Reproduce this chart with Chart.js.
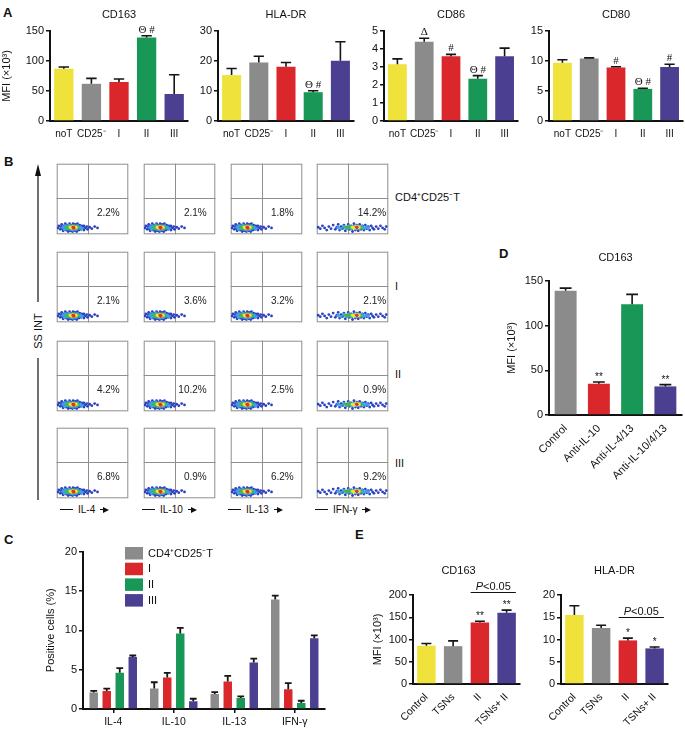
<!DOCTYPE html>
<html>
<head>
<meta charset="utf-8">
<title>Macrophage marker figure</title>
<script src="https://cdn.jsdelivr.net/npm/chart.js@4.4.1/dist/chart.umd.min.js"></script>
<style>
  body { margin: 0; width: 685px; height: 731px; position: relative; overflow: hidden; background: #fff;
         font-family: "Liberation Sans", Arial, sans-serif; color: #111; }
  canvas { position: absolute; }
  .panel { position: absolute; font-weight: bold; font-size: 13px; line-height: 13px; }
  .txt { position: absolute; font-size: 11px; line-height: 12px; white-space: nowrap; }
  .xlab { position: absolute; top: 504px; font-size: 10px; line-height: 11px; display: flex; align-items: center;
          white-space: nowrap; color: #111; }
  .xlab .dash { display: inline-block; width: 13px; height: 1px; background: #111; margin-right: 5px; }
  .xlab .stub { display: inline-block; width: 3px; height: 1px; background: #111; margin-left: 5px; }
  .xlab .head { display: inline-block; width: 0; height: 0; border-top: 3px solid transparent;
                border-bottom: 3px solid transparent; border-left: 6px solid #111; }
</style>
</head>
<body>

<div class="panel" style="left:3px;top:6px">A</div>
<div class="panel" style="left:4px;top:155px">B</div>
<div class="panel" style="left:4px;top:533px">C</div>
<div class="panel" style="left:499px;top:247px">D</div>
<div class="panel" style="left:355px;top:528px">E</div>

<!-- panel B: row names -->
<div class="txt" style="left:395px;top:191px">CD4⁺CD25⁻T</div>
<div class="txt" style="left:395px;top:280px">I</div>
<div class="txt" style="left:395px;top:368px">II</div>
<div class="txt" style="left:395px;top:457px">III</div>

<!-- panel B: SS INT axis -->
<svg width="60" height="520" style="position:absolute;left:0;top:0">
  <line x1="38" y1="172" x2="38" y2="302" stroke="#111" stroke-width="1.2"/>
  <polygon points="38,164 35,176 41,176" fill="#111"/>
  <line x1="38" y1="358" x2="38" y2="500" stroke="#111" stroke-width="1.2"/>
  <text transform="translate(42,331) rotate(-90)" text-anchor="middle" font-size="11"
        font-family="Liberation Sans, Arial, sans-serif" fill="#111">SS INT</text>
</svg>

<div id="cytoLabels"></div>

<script>
Chart.defaults.font.family = '"Liberation Sans", Arial, sans-serif';
Chart.defaults.color = '#111';

const YEL = '#eee23b', GRY = '#8b8b8b', RED = '#d9272c', GRN = '#189757', PUR = '#4b3f91';

// ---- panel A data ----
const groupsA = ['noT', 'CD25⁻', 'I', 'II', 'III'];
const colorsA = [YEL, GRY, RED, GRN, PUR];
const cd163A = [87, 62, 65, 139, 45];
const cd163AErr = [3, 9, 5, 3, 32];
const cd163AMarks = ['', '', '', 'Θ #', ''];
const hladrA = [15.3, 19.5, 18.1, 9.6, 20.1];
const hladrAErr = [2.2, 2.1, 1.4, 0.5, 6.3];
const hladrAMarks = ['', '', '', 'Θ #', ''];
const cd86A = [3.15, 4.4, 3.6, 2.35, 3.6];
const cd86AErr = [0.3, 0.2, 0.1, 0.17, 0.45];
const cd86AMarks = ['', 'Δ', '#', 'Θ #', ''];
const cd80A = [9.7, 10.4, 8.9, 5.35, 9.0];
const cd80AErr = [0.5, 0.12, 0.15, 0.1, 0.45];
const cd80AMarks = ['', '', '#', 'Θ #', '#'];

// ---- panel B data ----
const cytokines = ['IL-4', 'IL-10', 'IL-13', 'IFN-γ'];
const pctCD4T = [2.2, 2.1, 1.8, 14.2];
const pctI = [2.1, 3.6, 3.2, 2.1];
const pctII = [4.2, 10.2, 2.5, 0.9];
const pctIII = [6.8, 0.9, 6.2, 9.2];
const pctRows = [pctCD4T, pctI, pctII, pctIII];

// representative events, narrow cluster (IL-4 / IL-10 / IL-13)
const narrowBlue = [[2,9],[3,12],[5,7],[6,11],[7,14],[8,8],[9,5],[10,12],[11,9],[12,15],[13,6],[14,11],
  [15,13],[16,4],[17,8],[18,15],[19,5],[20,13],[22,4],[23,15],[25,5],[26,14],[28,4],[29,15],[31,6],
  [32,13],[34,7],[35,12],[36,9],[38,6],[38,12],[40,9],[42,11],[43,7],[46,10],[49,8],[53,11],[57,9]];
const narrowCyan = [[9,10],[11,7],[12,12],[14,8],[15,11],[17,13],[19,7],[21,12],[23,6],[25,12],[27,7],
  [29,12],[31,9],[33,10],[35,8]];
const narrowGreen = [[14,10],[16,9],[18,11],[20,8],[22,11],[24,8],[26,11],[28,9],[30,10]];
const narrowYellow = [[19,10],[21,9],[23,11],[25,9],[27,10]];
const narrowRed = [[23,10],[24,9]];
// wide cluster (IFN-γ)
const wideBlue = [[2,10],[5,8],[8,12],[11,9],[14,6],[17,11],[20,8],[23,13],[26,7],[28,10],[30,14],[32,6],
  [34,11],[36,8],[38,13],[40,5],[42,10],[44,14],[46,7],[48,12],[50,4],[52,15],[54,6],[56,13],[58,5],
  [60,14],[62,7],[64,12],[66,6],[68,13],[70,8],[72,11],[74,6],[76,12],[78,9],[80,7],[83,11],[86,8],
  [89,12],[92,9],[95,7],[97,11]];
const wideCyan = [[30,10],[34,8],[38,11],[42,8],[45,12],[48,8],[51,11],[54,8],[57,12],[60,9],[63,11],
  [66,9],[69,10],[72,9]];
const wideGreen = [[40,10],[44,9],[47,11],[50,9],[53,10],[56,10],[59,11],[62,9]];
const wideYellow = [[50,10],[53,9],[56,11],[59,10]];
const wideRed = [[56,10]];

// ---- panel C data ----
const cytoGroups = ['IL-4', 'IL-10', 'IL-13', 'IFN-γ'];
const cellSeries = ['CD4⁺CD25⁻T', 'I', 'II', 'III'];
const posCD4T = [2.1, 2.6, 1.9, 13.9];
const posCD4TErr = [0.2, 0.8, 0.25, 0.5];
const posI = [2.3, 4.0, 3.5, 2.5];
const posIErr = [0.3, 0.6, 0.7, 0.8];
const posII = [4.6, 9.6, 1.4, 0.75];
const posIIErr = [0.6, 0.7, 0.2, 0.3];
const posIII = [6.6, 1.0, 5.9, 9.0];
const posIIIErr = [0.2, 0.3, 0.5, 0.35];

// ---- panel D data ----
const groupsD = ['Control', 'Anti-IL-10', 'Anti-IL-4/13', 'Anti-IL-10/4/13'];
const cd163D = [139, 35, 124, 32];
const cd163DErr = [3, 2, 11, 2];
const cd163DMarks = ['', '**', '', '**'];

// ---- panel E data ----
const groupsE = ['Control', 'TSNs', 'II', 'TSNs+ II'];
const cd163E = [86, 85, 138, 160];
const cd163EErr = [5, 12, 3, 6];
const cd163EMarks = ['', '', '**', '**'];
const hladrE = [15.5, 12.6, 9.8, 8.0];
const hladrEErr = [2.1, 0.6, 0.5, 0.3];
const hladrEMarks = ['', '', '*', '*'];

// error bars, significance marks, titles, brackets, legend
const decor = {
  id: 'decor',
  afterDatasetsDraw(chart, args, o) {
    const ctx = chart.ctx, y = chart.scales.y;
    chart.data.datasets.forEach((ds, di) => {
      chart.getDatasetMeta(di).data.forEach((bar, i) => {
        const e = ds.errors ? ds.errors[i] : 0;
        const top = y.getPixelForValue(ds.data[i] + e);
        ctx.save();
        if (e > 0) {
          const cw = bar.width * (o.cap || 0.27);
          ctx.strokeStyle = '#151515';
          ctx.lineWidth = o.errWidth || 1.6;
          ctx.beginPath();
          ctx.moveTo(bar.x, bar.y);
          ctx.lineTo(bar.x, top);
          ctx.moveTo(bar.x - cw, top);
          ctx.lineTo(bar.x + cw, top);
          ctx.stroke();
        }
        const m = ds.marks && ds.marks[i];
        if (m) {
          const star = m.indexOf('*') >= 0;
          ctx.fillStyle = '#111';
          ctx.font = star ? '10px "Liberation Sans"' : '11px "Liberation Serif"';
          ctx.textAlign = 'center';
          ctx.textBaseline = 'alphabetic';
          ctx.fillText(m, bar.x, top - (star ? 2 : 3));
        }
        ctx.restore();
      });
    });
  },
  afterDraw(chart, args, o) {
    const ctx = chart.ctx, a = chart.chartArea;
    ctx.save();
    ctx.fillStyle = '#111';
    if (o.title) {
      ctx.font = '11px "Liberation Sans"';
      ctx.textAlign = 'center';
      ctx.textBaseline = 'middle';
      ctx.fillText(o.title, (a.left + a.right) / 2 + (o.titleDx || 0), a.top - o.titleGap);
    }
    if (o.bracket) {
      const meta = chart.getDatasetMeta(0);
      const b1 = meta.data[o.bracket.from], b2 = meta.data[o.bracket.to];
      const x1 = b1.x - b1.width / 2, x2 = b2.x + b2.width / 2;
      const yy = Math.round(chart.scales.y.getPixelForValue(o.bracket.value)) + 0.5;
      ctx.strokeStyle = '#111';
      ctx.lineWidth = 1;
      ctx.beginPath();
      ctx.moveTo(x1, yy);
      ctx.lineTo(x2, yy);
      ctx.stroke();
      const rest = o.bracket.text.slice(1);
      ctx.font = 'italic 11px "Liberation Sans"';
      const wP = ctx.measureText('P').width;
      ctx.font = '11px "Liberation Sans"';
      const wR = ctx.measureText(rest).width;
      const sx = (x1 + x2) / 2 - (wP + wR) / 2;
      ctx.textAlign = 'left';
      ctx.textBaseline = 'alphabetic';
      ctx.font = 'italic 11px "Liberation Sans"';
      ctx.fillText('P', sx, yy - 3);
      ctx.font = '11px "Liberation Sans"';
      ctx.fillText(rest, sx + wP, yy - 3);
    }
    if (o.legend) {
      const L = o.legend;
      chart.data.datasets.forEach((ds, i) => {
        const top = L.y + i * L.gap;
        ctx.fillStyle = ds.backgroundColor;
        ctx.fillRect(L.x, top, L.w, L.h);
        ctx.fillStyle = '#111';
        ctx.font = '11px "Liberation Sans"';
        ctx.textAlign = 'left';
        ctx.textBaseline = 'middle';
        ctx.fillText(ds.label, L.x + L.w + 5, top + L.h / 2 + 0.5);
      });
    }
    ctx.restore();
  }
};

// o.area = [left, top, right, bottom] of the plotting area on the page
function makeBars(o) {
  const [l, t, r, b] = o.area;
  const canvas = document.createElement('canvas');
  canvas.width = o.yW + (r - l) + 2;
  canvas.height = o.padTop + (b - t) + o.xH;
  canvas.style.left = (l - o.yW) + 'px';
  canvas.style.top = (t - o.padTop) + 'px';
  document.body.appendChild(canvas);
  const rot = o.rot || 0;
  return new Chart(canvas, {
    type: 'bar',
    data: { labels: o.labels, datasets: o.datasets },
    options: {
      responsive: false,
      animation: false,
      layout: { padding: { top: o.padTop, right: 2, left: 0, bottom: 0 } },
      datasets: { bar: { categoryPercentage: o.catPct || 1, barPercentage: o.barPct || 0.7 } },
      plugins: { legend: { display: false }, tooltip: { enabled: false }, decor: o.decor },
      scales: {
        x: {
          grid: { display: !!o.xTicks, drawOnChartArea: false, offset: false, tickLength: 4, color: '#111', lineWidth: 1.5 },
          border: { color: '#111', width: 2 },
          ticks: { color: '#111', font: { size: o.xFont || 10.5 }, padding: o.xPad || 3, autoSkip: false,
                   maxRotation: rot, minRotation: rot },
          afterFit: s => { s.height = o.xH; }
        },
        y: {
          min: 0, max: o.max,
          grid: { drawOnChartArea: false, tickLength: 4, color: '#111', lineWidth: 1.5 },
          border: { color: '#111', width: 2 },
          ticks: { stepSize: o.step, color: '#111', font: { size: 11 }, padding: 2 },
          title: { display: !!o.yTitle, text: o.yTitle, color: '#111', font: { size: 11 }, padding: 0 },
          afterFit: s => { s.width = o.yW; }
        }
      }
    },
    plugins: [decor]
  });
}

function single(values, errors, marks, colors) {
  return [{ data: values, errors: errors, marks: marks, backgroundColor: colors, borderWidth: 0 }];
}

// ---- panel A ----
makeBars({ area: [50, 31, 188, 121], yW: 50, xH: 20, padTop: 28, labels: groupsA, max: 150, step: 50,
  xFont: 10, yTitle: 'MFI (×10³)', datasets: single(cd163A, cd163AErr, cd163AMarks, colorsA),
  decor: { title: 'CD163', titleGap: 16 } });
makeBars({ area: [218, 31, 354, 121], yW: 30, xH: 20, padTop: 28, labels: groupsA, max: 30, step: 10,
  xFont: 10, datasets: single(hladrA, hladrAErr, hladrAMarks, colorsA),
  decor: { title: 'HLA-DR', titleGap: 16 } });
makeBars({ area: [384, 31, 518, 121], yW: 28, xH: 20, padTop: 28, labels: groupsA, max: 5, step: 1,
  xFont: 10, datasets: single(cd86A, cd86AErr, cd86AMarks, colorsA),
  decor: { title: 'CD86', titleGap: 16 } });
makeBars({ area: [549, 31, 683, 121], yW: 28, xH: 20, padTop: 28, labels: groupsA, max: 15, step: 5,
  xFont: 10, datasets: single(cd80A, cd80AErr, cd80AMarks, colorsA),
  decor: { title: 'CD80', titleGap: 16 } });

// ---- panel B ----
const colsX = [55, 142, 229, 315];
const rowsY = [162, 250, 339, 426];

const flowFrame = {
  id: 'flowFrame',
  beforeDatasetsDraw(chart, args, o) {
    const { ctx, chartArea: a, scales: { x, y } } = chart;
    ctx.save();
    ctx.strokeStyle = '#8e8e8e';
    ctx.lineWidth = 1;
    ctx.strokeRect(a.left + 0.5, a.top + 0.5, a.width - 1, a.height - 1);
    const qx = Math.round(x.getPixelForValue(o.qx)) + 0.5;
    const qy = Math.round(y.getPixelForValue(o.qy)) + 0.5;
    ctx.beginPath();
    ctx.moveTo(qx, a.top); ctx.lineTo(qx, a.bottom);
    ctx.moveTo(a.left, qy); ctx.lineTo(a.right, qy);
    ctx.stroke();
    ctx.restore();
  },
  afterDraw(chart, args, o) {
    const { ctx, scales: { x, y } } = chart;
    ctx.save();
    ctx.fillStyle = '#222';
    ctx.font = '10px "Liberation Sans"';
    ctx.textAlign = 'right';
    ctx.textBaseline = 'middle';
    ctx.fillText(o.text, x.getPixelForValue(o.tx), y.getPixelForValue(30));
    ctx.restore();
  }
};

function pts(list) { return list.map(p => ({ x: p[0], y: p[1] })); }

function makeFlow(r, c) {
  const canvas = document.createElement('canvas');
  canvas.width = 75; canvas.height = 74;
  canvas.style.left = colsX[c] + 'px';
  canvas.style.top = rowsY[r] + 'px';
  document.body.appendChild(canvas);
  const wide = c === 3;
  const layers = wide
    ? [[wideRed, '#e2312a'], [wideYellow, '#f1e33a'], [wideGreen, '#47b64a'], [wideCyan, '#3aa3e6'], [wideBlue, '#2c40c2']]
    : [[narrowRed, '#e2312a'], [narrowYellow, '#f1e33a'], [narrowGreen, '#47b64a'], [narrowCyan, '#3aa3e6'], [narrowBlue, '#2c40c2']];
  new Chart(canvas, {
    type: 'scatter',
    data: { datasets: layers.map(([list, col], k) => ({ data: pts(list), backgroundColor: col, borderWidth: 0,
      pointRadius: k === 4 ? 1.4 : 1.7, pointHoverRadius: 1.7 })) },
    options: {
      responsive: false, animation: false,
      layout: { padding: 0 },
      plugins: { legend: { display: false }, tooltip: { enabled: false },
                 flowFrame: { qx: 43.5, qy: 51, tx: wide ? 97 : 88, text: pctRows[r][c].toFixed(1) + '%' } },
      scales: { x: { type: 'linear', min: 0, max: 100, display: false },
                y: { type: 'linear', min: 0, max: 100, display: false } }
    },
    plugins: [flowFrame]
  });
}
for (let r = 0; r < 4; r++) for (let c = 0; c < 4; c++) makeFlow(r, c);

// cytokine axis names under the grid
const labStart = [60, 142, 228, 315];
const holder = document.getElementById('cytoLabels');
cytokines.forEach((name, i) => {
  const d = document.createElement('div');
  d.className = 'xlab';
  d.style.left = labStart[i] + 'px';
  d.innerHTML = '<span class="dash"></span><span>' + name + '</span><span class="stub"></span><span class="head"></span>';
  holder.appendChild(d);
});

// ---- panel C ----
makeBars({ area: [83, 551, 325, 709], yW: 39, xH: 20, padTop: 8, labels: cytoGroups, max: 20, step: 5,
  xTicks: true, catPct: 0.86, barPct: 0.65, yTitle: 'Positive cells (%)',
  datasets: [
    { label: cellSeries[0], data: posCD4T, errors: posCD4TErr, backgroundColor: GRY, borderWidth: 0 },
    { label: cellSeries[1], data: posI, errors: posIErr, backgroundColor: RED, borderWidth: 0 },
    { label: cellSeries[2], data: posII, errors: posIIErr, backgroundColor: GRN, borderWidth: 0 },
    { label: cellSeries[3], data: posIII, errors: posIIIErr, backgroundColor: PUR, borderWidth: 0 }
  ],
  decor: { cap: 0.4, errWidth: 1.8, legend: { x: 81, y: 4, w: 18, h: 12.5, gap: 15.7 } } });

// ---- panel D ----
makeBars({ area: [549, 281, 682, 415], yW: 44, xH: 68, padTop: 30, labels: groupsD, max: 150, step: 50,
  rot: 45, barPct: 0.66, xFont: 11, yTitle: 'MFI (×10³)',
  datasets: single(cd163D, cd163DErr, cd163DMarks, [GRY, RED, GRN, PUR]),
  decor: { title: 'CD163', titleGap: 23 } });

// ---- panel E ----
makeBars({ area: [413, 595, 520, 684], yW: 42, xH: 46, padTop: 36, labels: groupsE, max: 200, step: 50,
  rot: 45, barPct: 0.69, xFont: 10.5, yTitle: 'MFI (×10³)',
  datasets: single(cd163E, cd163EErr, cd163EMarks, [YEL, GRY, RED, PUR]),
  decor: { title: 'CD163', titleGap: 24, titleDx: -8, bracket: { from: 2, to: 3, value: 207, text: 'P<0.05' } } });
makeBars({ area: [561, 595, 668, 684], yW: 30, xH: 46, padTop: 36, labels: groupsE, max: 20, step: 5,
  rot: 45, barPct: 0.69, xFont: 10.5,
  datasets: single(hladrE, hladrEErr, hladrEMarks, [YEL, GRY, RED, PUR]),
  decor: { title: 'HLA-DR', titleGap: 24, bracket: { from: 2, to: 3, value: 15, text: 'P<0.05' } } });
</script>
</body>
</html>
